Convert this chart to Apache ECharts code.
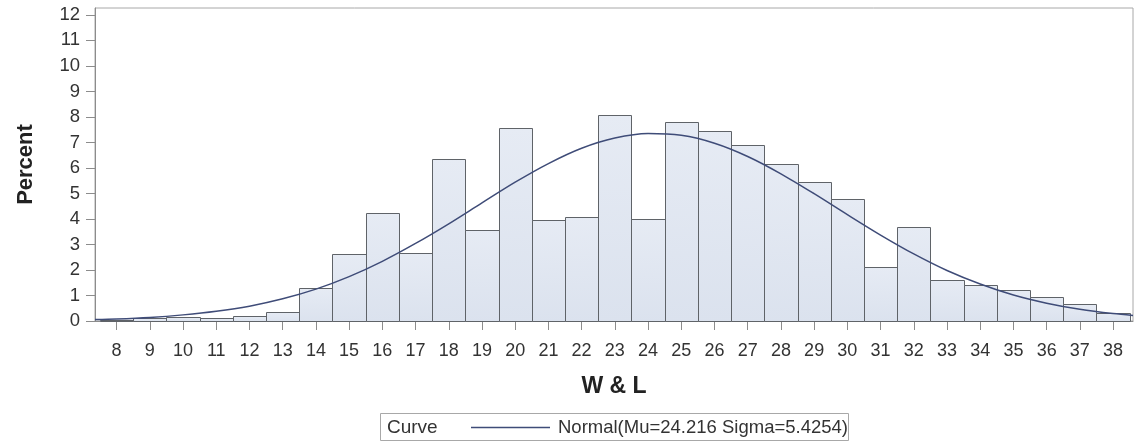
<!DOCTYPE html>
<html>
<head>
<meta charset="utf-8">
<script src="https://cdn.jsdelivr.net/npm/echarts@6/dist/echarts.min.js"></script>
<style>
html,body{margin:0;padding:0;background:#fff;}
#main{width:1135px;height:443px;}
</style>
</head>
<body>
<div id="main"></div>
<script>
// Histogram bins (midpoints) and percent values
const binMidpoints = [8,9,10,11,12,13,14,15,16,17,18,19,20,21,22,23,24,25,26,27,28,29,30,31,32,33,34,35,36,37,38];
const binPercents  = [0.05,0.10,0.17,0.10,0.20,0.34,1.31,2.61,4.22,2.65,6.37,3.57,7.58,3.96,4.07,8.08,4.01,7.82,7.43,6.88,6.17,5.46,4.77,2.10,3.70,1.61,1.40,1.20,0.95,0.65,0.30];

// Fitted normal curve
const curveX = [7.35,8,9,10,11,12,13,14,15,16,17,18,19,20,21,22,23,24,25,26,27,28,29,30,31,32,33,34,35,36,37,38,38.6];
const curveY = [0.06,0.08,0.14,0.24,0.38,0.58,0.87,1.25,1.74,2.34,3.04,3.81,4.63,5.44,6.17,6.77,7.17,7.35,7.28,6.97,6.45,5.77,4.99,4.17,3.37,2.63,1.98,1.45,1.02,0.70,0.46,0.29,0.22];

// Axis ticks
const xTicks = [8,9,10,11,12,13,14,15,16,17,18,19,20,21,22,23,24,25,26,27,28,29,30,31,32,33,34,35,36,37,38];
const yTicks = [0,1,2,3,4,5,6,7,8,9,10,11,12];

const curveName = 'Normal(Mu=24.216 Sigma=5.4254)';
const FONT = '"Liberation Sans", Arial, sans-serif';

const chart = echarts.init(document.getElementById('main'), null, {renderer: 'canvas'});

const barData = binMidpoints.map((m, i) => [m, binPercents[i]]);
const lineData = curveX.map((x, i) => [x, curveY[i]]);

chart.setOption({
  animation: false,
  backgroundColor: '#ffffff',
  textStyle: {fontFamily: FONT},
  grid: {
    left: 95, top: 8, right: 2, bottom: 122,
    show: true, borderColor: '#a8a8a8', borderWidth: 1, backgroundColor: 'transparent'
  },
  legend: {
    data: [{name: curveName}],
    left: 466, top: 413,
    icon: 'rect',
    itemWidth: 79, itemHeight: 1.5, itemGap: 0,
    textStyle: {fontFamily: FONT, fontSize: 18.5, color: '#333', padding: [0,0,0,3]},
    selectedMode: false
  },
  graphic: [
    {type: 'rect', shape: {x: 380.5, y: 413.5, width: 468, height: 27},
     style: {fill: 'none', stroke: '#a8a8a8', lineWidth: 1}, z: 0},
    {type: 'text', left: 387, top: 418,
     style: {text: 'Curve', font: '19px ' + FONT, fill: '#333'}}
  ],
  xAxis: {
    type: 'value', min: 7.35, max: 38.6,
    name: 'W & L', nameLocation: 'middle', nameGap: 54,
    nameTextStyle: {fontFamily: FONT, fontSize: 23, fontWeight: 'bold', color: '#222'},
    axisLine: {show: true, lineStyle: {color: '#8c8c8c', width: 1}},
    axisTick: {show: true, length: 9, customValues: xTicks, lineStyle: {color: '#8c8c8c'}},
    axisLabel: {customValues: xTicks, margin: 21, fontSize: 18, color: '#333', fontFamily: FONT},
    splitLine: {show: false}
  },
  yAxis: {
    type: 'value', min: 0, max: 12.27, interval: 1,
    name: 'Percent', nameLocation: 'middle', nameGap: 58, nameRotate: 90,
    nameTextStyle: {fontFamily: FONT, fontSize: 22, fontWeight: 'bold', color: '#222'},
    axisLine: {show: true, lineStyle: {color: '#8c8c8c', width: 1}},
    axisTick: {show: true, length: 9, customValues: yTicks, lineStyle: {color: '#8c8c8c'}},
    axisLabel: {customValues: yTicks, margin: 15, fontSize: 18.5, color: '#333', fontFamily: FONT},
    splitLine: {show: false}
  },
  series: [
    {
      type: 'custom',
      name: 'Histogram',
      data: barData,
      encode: {x: 0, y: 1},
      renderItem: function (params, api) {
        const m = api.value(0), v = api.value(1);
        const p1 = api.coord([m - 0.5, v]);
        const p2 = api.coord([m + 0.5, 0]);
        return {
          type: 'rect',
          shape: {x: Math.round(p1[0]) + 0.5, y: Math.round(p1[1]) + 0.5,
                  width: Math.round(p2[0]) - Math.round(p1[0]),
                  height: Math.round(p2[1]) - Math.round(p1[1])},
          style: {
            fill: new echarts.graphic.LinearGradient(0, 0, 0, 1, [
              {offset: 0, color: '#e6ebf4'}, {offset: 1, color: '#dbe2ee'}
            ]),
            stroke: '#5f6368', lineWidth: 1
          }
        };
      },
      z: 2
    },
    {
      type: 'line',
      name: curveName,
      data: lineData,
      smooth: 0.3,
      symbol: 'none',
      showSymbol: false,
      lineStyle: {color: '#3f4c78', width: 1.5},
      itemStyle: {color: '#3f4c78'},
      z: 3
    }
  ]
});
</script>
</body>
</html>
